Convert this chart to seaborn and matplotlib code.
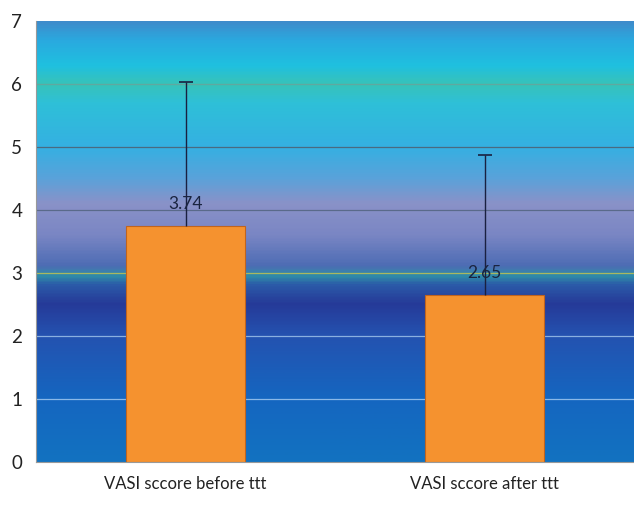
import numpy as np
import pandas as pd
import matplotlib
matplotlib.use('Agg')
import matplotlib.pyplot as plt
from matplotlib.colors import LinearSegmentedColormap
import seaborn as sns

# ── data ──────────────────────────────────────────────────────────────────────
categories = ['VASI sccore before ttt', 'VASI sccore after ttt']
means      = [3.74, 2.65]
err_upper  = [2.28, 2.22]
value_text = ['3.74', '2.65']

sns.set_style('white')
plt.rcParams['font.family'] = ['Lato', 'DejaVu Sans']

df = pd.DataFrame({'group': categories, 'score': means})

fig = plt.figure(figsize=(6.34, 5.05), dpi=100)
ax = fig.add_axes([0.057, 0.085, 0.943, 0.874])

# ── background gradient (office-style fill) ───────────────────────────────────
stops = [
    (0.0, '#1272c0'), (1.0, '#1566c0'), (2.0, '#2452b0'), (2.5, '#263a98'),
    (2.8, '#2b5aa8'), (2.95, '#2f8ea8'), (3.1, '#4d6cb4'), (3.6, '#7a86c4'),
    (4.1, '#8a92c8'), (4.5, '#5aa2da'), (5.0, '#35b0e2'), (5.7, '#2ec0d8'),
    (6.0, '#38c3b8'), (6.3, '#1fc0e0'), (6.7, '#2aa9df'), (7.0, '#3f8bcb'),
]
cmap = LinearSegmentedColormap.from_list('bg', [(v / 7.0, c) for v, c in stops])
grad = np.linspace(0, 1, 400).reshape(-1, 1)
ax.imshow(grad, cmap=cmap, origin='lower', aspect='auto',
          extent=[-0.5, 1.5, 0, 7], zorder=0)

# gridlines
grid_cols = {1: '#8ab8e8', 2: '#8ab0e0', 3: '#a8b860', 4: '#5a6a8a', 5: '#4a6a80', 6: '#60a8a0'}
for yv, c in grid_cols.items():
    ax.axhline(yv, color=c, lw=0.9, zorder=1)

# ── bars ──────────────────────────────────────────────────────────────────────
sns.barplot(data=df, x='group', y='score', order=categories, width=0.4,
            color='#f5922f', edgecolor='#c0641e', linewidth=0.8,
            saturation=1, ax=ax, zorder=2)

# upper-only error bars (cap on top only)
xs = np.arange(len(categories))
tops = np.array(means) + np.array(err_upper)
ax.vlines(xs, means, tops, color='#1a2040', lw=1, zorder=3)
ax.plot(xs, tops, ls='none', marker='_', ms=10, mew=1.2, color='#1a2040', zorder=3)

for x, m, t in zip(xs, means, value_text):
    ax.text(x, m + 0.27, t, ha='center', va='baseline', fontsize=12.5,
            color='#1a2440', zorder=4)

# ── axes styling ──────────────────────────────────────────────────────────────
ax.set_xlim(-0.5, 1.5)
ax.set_ylim(0, 7)
ax.set_yticks(range(0, 8))
ax.set_xticks([-0.5, 0.5, 1.5], minor=False)
ax.set_xticks(xs, minor=True)
ax.set_xticklabels(['', '', ''])
ax.set_xticklabels(categories, minor=True)
ax.tick_params(axis='x', which='minor', length=0, pad=10, labelsize=12, labelcolor='#222222')
ax.tick_params(axis='x', which='major', length=5, color='#888888', direction='out')
ax.tick_params(axis='y', length=4, color='#888888', direction='out', labelsize=13.5,
               pad=6, labelcolor='#222222')
ax.set_xlabel('')
ax.set_ylabel('')
for s in ['top', 'right']:
    ax.spines[s].set_visible(False)
for s in ['left', 'bottom']:
    ax.spines[s].set_color('#999999')
    ax.spines[s].set_linewidth(0.8)

fig.savefig('out.png', dpi=100)
